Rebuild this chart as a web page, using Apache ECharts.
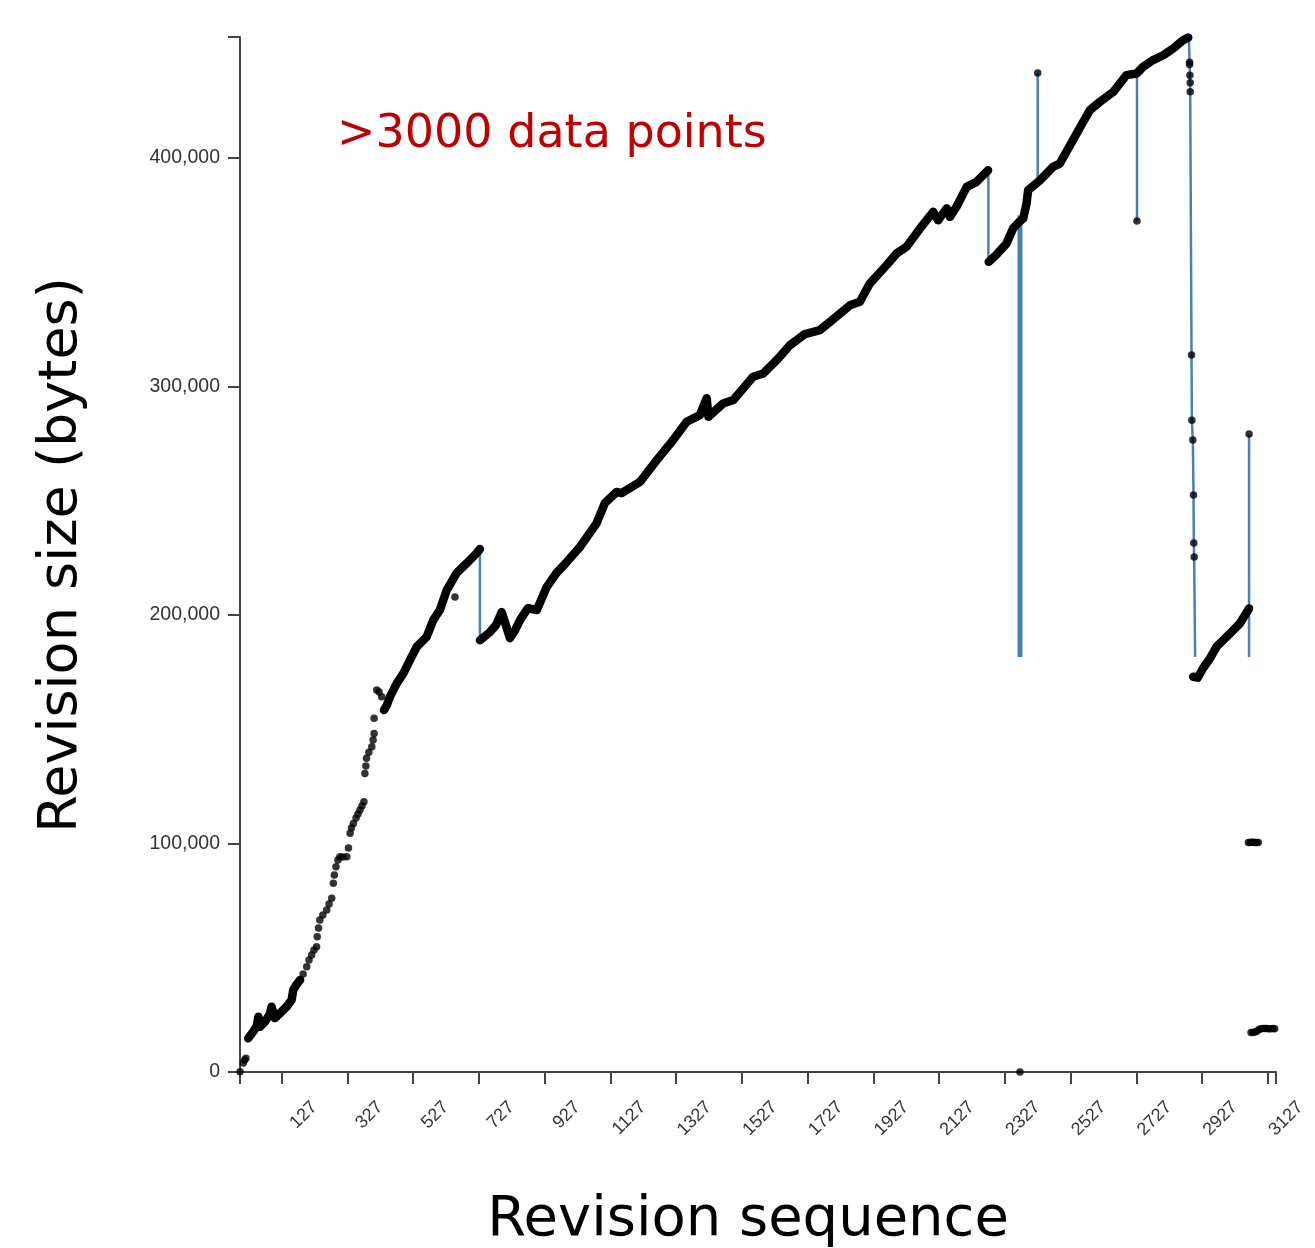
<!DOCTYPE html>
<html><head><meta charset="utf-8">
<script src="https://cdn.jsdelivr.net/npm/echarts@6/dist/echarts.min.js"></script>
<style>html,body{margin:0;padding:0;background:#fff}#c{width:1315px;height:1248px}</style>
</head><body><div id="c"></div>
<script>
// ---- tick labels ----
const xTickLabels = [127,327,527,727,927,1127,1327,1527,1727,1927,2127,2327,2527,2727,2927,3127];
const yTickLabels = [0,100000,200000,300000,400000];
const xMax = 3152;
const yMax = 453000;

// ---- revision sizes [revision, bytes] ----
const earlyDots = [[0,100],[10,3900],[14,5250],[18,6000]];
const trace1 = [[25,14750],[40,17600],[51,20100],[56,24200],[61,19800],[76,22000],[91,25400],[96,28600],[106,23600],[122,25800],[142,28600],[157,31500],[162,35900],[173,38500],[183,40300]];
const sparseDots = [[192,42900],[203,46100],[210,49000],[218,51200],[225,53400],[233,54800],[235,59200],[239,63000],[243,66500],[252,68700],[264,70900],[271,73500],[279,76000],[284,82600],[287,86200],[292,89800],[298,92800],[304,94200],[313,94100],[325,94200],[330,98000],[335,104500],[339,106800],[345,108800],[353,111200],[359,112900],[365,114700],[371,116400],[377,118300],[380,130700],[383,133900],[385,137300],[392,140000],[401,142400],[405,145300],[408,148200],[408,154800],[416,167200],[423,166300],[431,164200],[654,207900]];
const trace2 = [[438,158400],[447,160600],[456,164200],[477,170100],[497,174500],[522,181700],[538,186100],[568,190500],[588,197800],[608,202200],[629,210900],[659,218400],[690,222700],[720,227100],[730,228900]];
const trace3 = [[730,189000],[760,192500],[779,195600],[796,201300],[811,194700],[821,189900],[837,193400],[852,197800],[876,203000],[903,202200],[933,212200],[963,218400],[994,223200],[1034,229700],[1085,240200],[1110,249000],[1146,253900],[1161,253400],[1217,258300],[1268,267800],[1318,276600],[1359,284600],[1399,287500],[1420,294900],[1425,286800],[1470,292600],[1501,294100],[1561,304300],[1592,305700],[1633,311600],[1673,318100],[1719,323000],[1764,324700],[1795,328300],[1856,335600],[1886,337100],[1916,345100],[1967,353100],[1998,358300],[2028,361200],[2069,369200],[2109,376500],[2124,372800],[2150,378000],[2160,374300],[2180,378700],[2211,387400],[2241,389600],[2276,394700]];
const trace4 = [[2278,354600],[2300,357500],[2332,362600],[2352,369200],[2370,372000],[2383,373600],[2393,380100],[2398,386000],[2415,388000],[2434,390300],[2474,396200],[2494,397600],[2534,407800],[2560,414500],[2586,421000],[2616,424600],[2657,429000],[2697,436300],[2728,437000],[2748,440000],[2778,442900],[2809,445000],[2839,448000],[2869,451600],[2885,452800]];
const trace5 = [[2900,173000],[2914,172600],[2930,176700],[2951,181000],[2971,186100],[3012,191900],[3042,196300],[3070,202900]];
const dropDots = [[2889,442000],[2889,441000],[2890,436300],[2891,433000],[2891,429000],[2895,313800],[2896,285300],[2899,276600],[2901,252500],[2902,231500],[2903,225400]];
const lonelyDots = [[2373,0],[2427,437200],[2729,372500],[3070,279200]];
const dots100k = [[3068,100500],[3073,100500],[3078,100600],[3083,100600],[3088,100500],[3093,100500],[3098,100400]];
const dots18k = [[3076,17300],[3082,17300],[3088,17500],[3094,17800],[3100,18600],[3106,18900],[3112,19000],[3118,19000],[3124,19000],[3130,18900],[3136,18900],[3142,19000],[3148,18900]];

// ---- blue drop lines [revision, bytes] ----
const drop1 = [[730,228900],[730,189000]];
const drop2 = [[2277,394700],[2277,354600]];
const drop3 = [[2373,181600],[2373,375000]];
const drop4 = [[2427,437200],[2427,391200]];
const drop5 = [[2729,437000],[2729,372500]];
const drop6 = [[2887,452800],[2889,442000],[2890,436300],[2891,429000],[2895,313800],[2896,285300],[2899,276600],[2901,252500],[2902,231500],[2903,225400],[2906,181600]];
const drop7 = [[3070,279200],[3070,181600]];

const BLUE = '#4682b4';
function traceSeries(d){return {type:'line',data:d,symbol:'circle',symbolSize:7,showSymbol:true,showAllSymbol:true,itemStyle:{color:'#000'},lineStyle:{color:'#000',width:8.5,cap:'round',join:'round'},z:4,clip:false,silent:true};}
function dotSeries(d){return {type:'scatter',data:d,symbol:'circle',symbolSize:7.5,itemStyle:{color:'#000'},z:5,clip:false,silent:true};}
function blueSeries(d,w){return {type:'line',data:d,symbol:'none',lineStyle:{color:BLUE,width:w},z:2,silent:true};}

const axisColor = '#444';
const chart = echarts.init(document.getElementById('c'), null, {renderer:'canvas'});
chart.setOption({
  animation:false,
  backgroundColor:'#fff',
  grid:{left:240,right:39,top:37,bottom:176,containLabel:false},
  xAxis:{type:'value',min:0,max:xMax,
    axisLine:{show:true,onZero:false,lineStyle:{color:axisColor,width:2}},
    axisTick:{show:true,customValues:[0].concat(xTickLabels,[xMax]),length:12,lineStyle:{color:axisColor,width:2}},
    axisLabel:{customValues:xTickLabels,rotate:45,align:'right',verticalAlign:'top',margin:0,padding:[37,0,0,0],
      fontSize:18,color:'#333',fontFamily:'Liberation Sans',formatter:function(v){return String(v);}},
    splitLine:{show:false}},
  yAxis:{type:'value',min:0,max:yMax,
    axisLine:{show:true,onZero:false,lineStyle:{color:axisColor,width:2}},
    axisTick:{show:true,customValues:yTickLabels.concat([yMax]),length:12,lineStyle:{color:axisColor,width:2}},
    axisLabel:{customValues:yTickLabels,margin:20,fontSize:19.5,color:'#333',fontFamily:'Liberation Sans',
      formatter:function(v){return Number(v).toLocaleString('en-US');}},
    splitLine:{show:false}},
  graphic:[
    {type:'text',left:337,top:112,style:{text:'>3000 data points',fontSize:46,fontFamily:'DejaVu Sans',fill:'#c00000'}},
    {type:'text',x:62,y:555,rotation:Math.PI/2,style:{text:'Revision size (bytes)',fontSize:54,fontFamily:'DejaVu Sans',fill:'#000',align:'center',verticalAlign:'middle'}},
    {type:'text',x:748,y:1220,style:{text:'Revision sequence',fontSize:56,fontFamily:'DejaVu Sans',fill:'#000',align:'center',verticalAlign:'middle'}}
  ],
  series:[
    blueSeries(drop1,2.5),blueSeries(drop2,2.5),blueSeries(drop3,5),blueSeries(drop4,2.5),
    blueSeries(drop5,2.5),blueSeries(drop6,2.5),blueSeries(drop7,2.5),
    traceSeries(trace1),traceSeries(trace2),traceSeries(trace3),traceSeries(trace4),traceSeries(trace5),
    dotSeries(earlyDots),dotSeries(sparseDots),dotSeries(dropDots),dotSeries(lonelyDots),
    dotSeries(dots100k),dotSeries(dots18k)
  ]
});
</script></body></html>
